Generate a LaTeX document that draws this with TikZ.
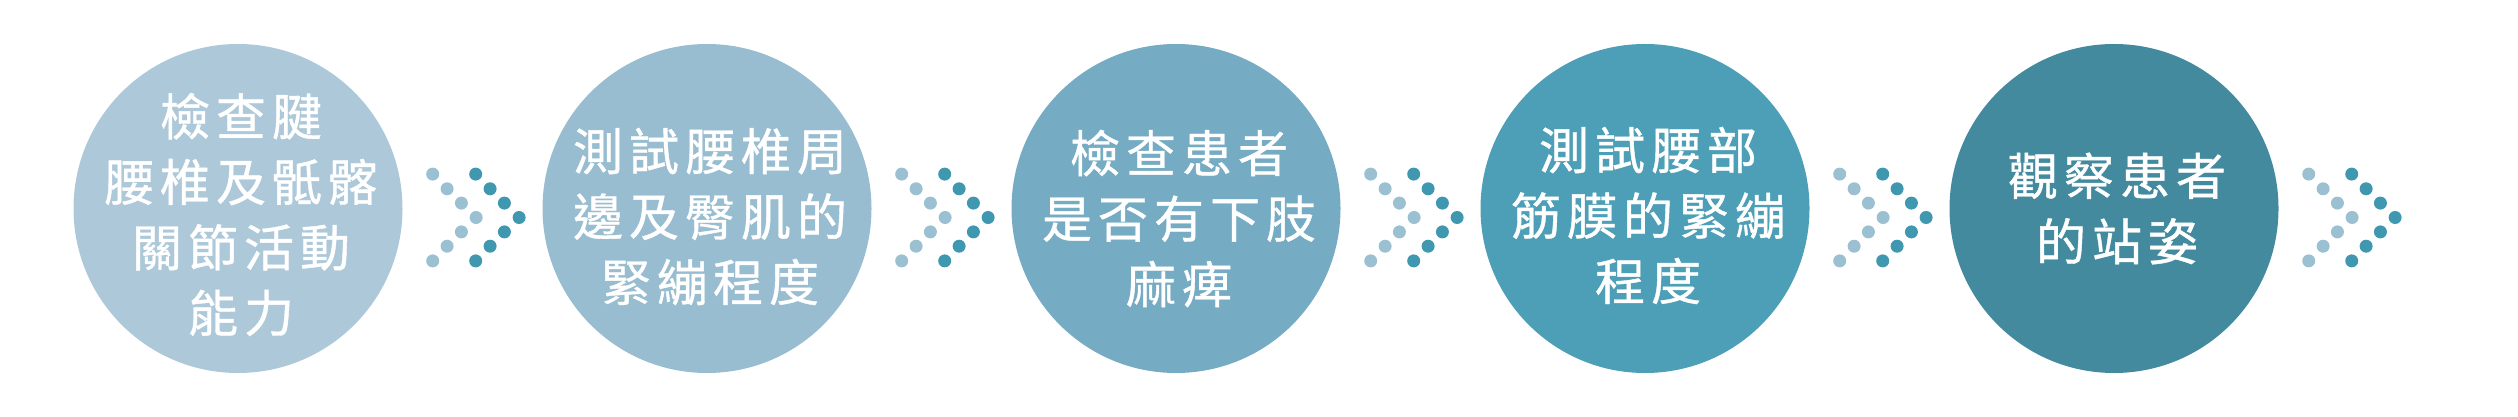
\documentclass[tikz,border=0pt]{standalone}
\usepackage{fontspec}
\setmainfont{Noto Sans CJK TC}[LetterSpace=12, FakeBold=0.8]
\usetikzlibrary{positioning,calc}

\definecolor{stepA}{HTML}{ADC9D9}
\definecolor{stepB}{HTML}{98BDD0}
\definecolor{stepC}{HTML}{75ABC3}
\definecolor{stepD}{HTML}{4C9FB6}
\definecolor{stepE}{HTML}{438A9F}
\definecolor{dotlight}{HTML}{9AC0D2}
\definecolor{dotdark}{HTML}{3F97B0}

\begin{document}
\begin{tikzpicture}[x=1pt, y=1pt, node distance={469pt},
  main/.style = {circle, minimum size=329pt, inner sep=0pt},
  txt/.style = {text=white, align=center, inner sep=0pt,
    font=\fontsize{50}{65.5}\selectfont}]
\useasboundingbox (0,0) rectangle (2518,417);

\node[main, fill=stepA] (c1) at (238,208.5) {};
\node[main, fill=stepB] (c2) [right of=c1] {};
\node[main, fill=stepC] (c3) [right of=c2] {};
\node[main, fill=stepD] (c4) [right of=c3] {};
\node[main, fill=stepE] (c5) [right of=c4] {};

\node[txt] (t1) at ($(c1)+(3,-6)$) {檢查腱\\腰椎及骶髂\\關節活動\\能力};
\node[txt] (t2) at ($(c2)+(3,-8)$) {測試腰椎周\\邊及臀肌的\\緊繃程度};
\node[txt] (t3) at ($(c3)+(3,-10)$) {檢查患者\\是否有下肢\\麻痺};
\node[txt] (t4) at ($(c4)+(3,-7)$) {測試腰部\\筋膜的緊繃\\程度};
\node[txt] (t5) at ($(c5)+(3,0)$) {觀察患者\\的站姿};

% dotted chevrons after each step
\foreach \n in {c1,c2,c3,c4,c5}
  \foreach \dx/\dy in {0/43.4, 14.4/28.7, 28.7/14.4, 43.4/0, 28.7/-14.4, 14.4/-28.7, 0/-43.4} {
    \fill[dotlight] ($(\n.east)+(30+\dx,-9+\dy)$) circle (6.5);
    \fill[dotdark] ($(\n.east)+(73+\dx,-9+\dy)$) circle (6.5);
  }
\end{tikzpicture}
\end{document}
